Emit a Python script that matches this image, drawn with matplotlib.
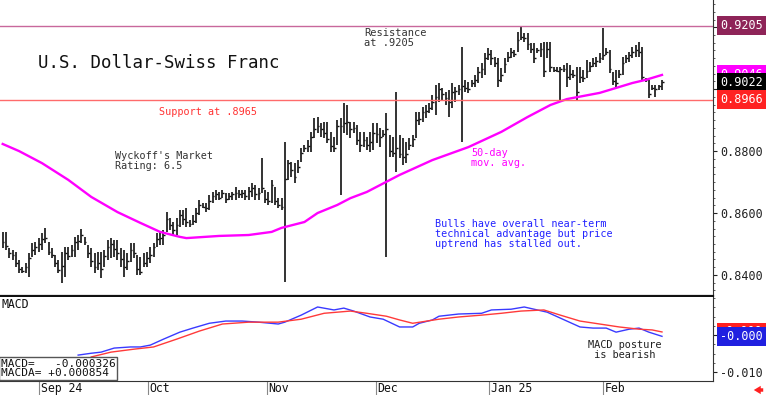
import numpy as np
import matplotlib
matplotlib.use('Agg')
import matplotlib.pyplot as plt
from matplotlib.ticker import MultipleLocator

# daily bars (USD/CHF)
highs = [
    .8539, .8539, .8487, .8481, .8474, .8448, .8426, .8438, .8471, .8503,
    .8506, .8519, .8535, .8552, .8506, .8487, .8464, .8448, .8474, .8490,
    .8490, .8497, .8523, .8529, .8548, .8523, .8497, .8487, .8471, .8474,
    .8474, .8481, .8513, .8519, .8513, .8513, .8487, .8481, .8471, .8503,
    .8503, .8464, .8458, .8471, .8474, .8490, .8503, .8535, .8539, .8545,
    .8603, .8584, .8571,
    .8584, .8610, .8610, .8616, .8577, .8594, .8616, .8642, .8632, .8632,
    .8658, .8668, .8674, .8668, .8674, .8665, .8665, .8668, .8684, .8674,
    .8674, .8674, .8684, .8697, .8690, .8681, .8778, .8674, .8668, .8707,
    .8684, .8648, .8648, .8829, .8771, .8765, .8761, .8771, .8810, .8820,
    .8836, .8862, .8907, .8910, .8891, .8894, .8894, .8862, .8845, .8900,
    .8907, .8955, .8949,
    .8894, .8894, .8884, .8862, .8862, .8845, .8862, .8891, .8891, .8875,
    .8868, .8923, .8852, .8845, .8991, .8852, .8842, .8829, .8842, .8852,
    .8926, .8926, .8942, .8949, .8955, .8981, .9013, .9020, .9004, .8991,
    .8997, .9020, .9007, .9013, .9136, .9030, .9023, .9030,
    .9046, .9072, .9085, .9117, .9133, .9127, .9104, .9101, .9068, .9101,
    .9120, .9133, .9127, .9185,
    .9205, .9181, .9181, .9149, .9149, .9133, .9149, .9152, .9152, .9152,
    .9072, .9072, .9072, .9078, .9085, .9078, .9062, .9072, .9072, .9062,
    .9094, .9088, .9101, .9104, .9117, .9198, .9133, .9127, .9055, .9062,
    .9062, .9104, .9110, .9120, .9136, .9142, .9152, .9136, .9036, .9030,
    .9013, .9013, .9013, .9030]

lows = [
    .8487, .8481, .8455, .8448, .8426, .8406, .8406, .8406, .8393, .8458,
    .8464, .8474, .8481, .8503, .8464, .8455, .8426, .8406, .8374, .8393,
    .8448, .8458, .8458, .8481, .8503, .8497, .8455, .8426, .8406, .8416,
    .8390, .8426, .8448, .8455, .8458, .8448, .8426, .8393, .8416, .8442,
    .8455, .8400, .8400, .8426, .8426, .8438, .8458, .8490, .8497, .8497,
    .8539, .8545, .8529,
    .8529, .8555, .8561, .8555, .8555, .8561, .8568, .8594, .8616, .8603,
    .8610, .8632, .8642, .8642, .8648, .8632, .8642, .8642, .8642, .8648,
    .8648, .8642, .8642, .8652, .8642, .8642, .8665, .8632, .8626, .8632,
    .8626, .8616, .8610, .8377, .8707, .8716, .8697, .8729, .8765, .8797,
    .8797, .8797, .8842, .8858, .8845, .8842, .8826, .8797, .8797, .8820,
    .8658, .8858, .8852,
    .8842, .8858, .8820, .8797, .8813, .8804, .8797, .8804, .8826, .8813,
    .8845, .8458, .8781, .8781, .8732, .8778, .8755, .8761, .8804, .8813,
    .8842, .8884, .8894, .8907, .8923, .8933, .8917, .8959, .8965, .8949,
    .8910, .8939, .8959, .8981, .8829, .8991, .8988, .9007,
    .9007, .9020, .9036, .9046, .9094, .9078, .9072, .9007, .9023, .9052,
    .9088, .9101, .9104, .9120,
    .9159, .9152, .9127, .9117, .9085, .9117, .9104, .9039, .9101, .9055,
    .9055, .9055, .8965, .9055, .9007, .9030, .9036, .8965, .9020, .9023,
    .9036, .9055, .9072, .9072, .9085, .9094, .9110, .9052, .9013, .9007,
    .9036, .9046, .9085, .9088, .9101, .9104, .9104, .9030, .9023, .8971,
    .8997, .8975, .8997, .8997]

closes = [
    .8505, .8495, .8470, .8465, .8440, .8420, .8412, .8425, .8455, .8480,
    .8490, .8500, .8515, .8520, .8475, .8465, .8440, .8415, .8430, .8470,
    .8460, .8480, .8505, .8510, .8530, .8505, .8470, .8445, .8425, .8440,
    .8420, .8460, .8490, .8500, .8485, .8470, .8450, .8425, .8445, .8480,
    .8470, .8420, .8410, .8440, .8455, .8465, .8490, .8515, .8520, .8530,
    .8580, .8560, .8545,
    .8560, .8595, .8580, .8570, .8565, .8575, .8600, .8625, .8620, .8615,
    .8640, .8655, .8660, .8650, .8665, .8645, .8655, .8660, .8665, .8660,
    .8665, .8655, .8670, .8680, .8660, .8665, .8680, .8645, .8640, .8690,
    .8640, .8625, .8620, .8710, .8760, .8740, .8715, .8750, .8795, .8810,
    .8815, .8845, .8870, .8880, .8870, .8860, .8840, .8815, .8810, .8880,
    .8880, .8890, .8895,
    .8870, .8875, .8835, .8820, .8835, .8820, .8830, .8860, .8855, .8845,
    .8855, .8870, .8800, .8795, .8810, .8790, .8780, .8790, .8820, .8840,
    .8900, .8905, .8925, .8930, .8940, .8960, .8975, .9000, .8985, .8970,
    .8960, .8990, .8995, .9000, .9010, .9005, .9000, .9020,
    .9030, .9055, .9065, .9100, .9115, .9100, .9085, .9030, .9045, .9080,
    .9105, .9120, .9115, .9160,
    .9170, .9165, .9145, .9130, .9100, .9125, .9130, .9060, .9130, .9070,
    .9062, .9060, .9065, .9065, .9040, .9050, .9045, .8990, .9040, .9035,
    .9060, .9075, .9085, .9090, .9100, .9110, .9120, .9065, .9025, .9020,
    .9050, .9085, .9100, .9110, .9120, .9125, .9120, .9040, .9030, .8985,
    .9005, .9000, .9010, .9022]

# 50-day moving average, sampled along the curve (bar index, value)
ma_x = [0, 5, 12, 20, 27, 35, 42, 48, 54, 56, 66, 75, 82, 85, 92, 96, 102,
        106, 111, 121, 131, 142, 152, 160, 167, 172, 182, 187, 192, 196, 201]
ma_v = [.8823, .8800, .8761, .8707, .8652, .8603, .8568, .8539, .8523, .8519,
        .8526, .8529, .8539, .8552, .8571, .8600, .8626, .8648, .8668, .8723,
        .8771, .8813, .8862, .8910, .8949, .8968, .8988, .9004, .9020, .9030,
        .9046]

# MACD (blue) and MACDA (red)
macd_x = [23, 27, 30, 34, 39, 42, 45, 49, 54, 58, 63, 68, 73, 78, 84, 86, 91,
          96, 101, 104, 107, 112, 116, 121, 125, 127, 131, 133, 139, 146, 149,
          155, 159, 162, 166, 170, 176, 180, 184, 187, 191, 194, 197, 201]
macd_v = [-.0054, -.0049, -.0046, -.0035, -.0032, -.0032, -.0027, -.0011,
          .0008, .0019, .0032, .0038, .0038, .0035, .0030, .0035, .0054,
          .0076, .0068, .0073, .0065, .0049, .0043, .0022, .0022, .0032,
          .0041, .0051, .0057, .0059, .0068, .0070, .0076, .0070, .0062,
          .0046, .0022, .0019, .0019, .0008, .0016, .0019, .0008, -.000326]
sig_x = [27, 33, 40, 46, 53, 60, 67, 75, 84, 91, 98, 106, 111, 117, 121, 125,
         133, 139, 146, 152, 158, 165, 170, 176, 182, 188, 194, 198, 201]
sig_v = [-.0059, -.0046, -.0038, -.0032, -.0011, .0011, .0030, .0035, .0035,
         .0043, .0059, .0065, .0059, .0051, .0041, .0032, .0043, .0049, .0054,
         .0059, .0065, .0068, .0054, .0038, .0030, .0022, .0016, .0014, .000854]

month_pos = [11.1, 44.3, 80.6, 113.8, 148.3, 183.0]
month_labels = ['Sep 24', 'Oct', 'Nov', 'Dec', 'Jan 25', 'Feb']

price_ticks = [0.84, 0.86, 0.88, 0.90, 0.92]
price_tick_labels = ['0.8400', '0.8600', '0.8800', '0.9000', '']
macd_ticks = [-0.010, 0.0]
macd_tick_labels = ['-0.010', '']

resistance = 0.9205
support = 0.8966
last_close = 0.9022
last_ma = 0.9046

MONO = 'DejaVu Sans Mono'
W, H = 768, 395


def fx(px):
    return px / W


def fy(py):
    return 1 - py / H


fig = plt.figure(figsize=(W / 100, H / 100), dpi=100)
ax = fig.add_axes([0, fy(296), fx(713), fy(0) - fy(296)])
axm = fig.add_axes([0, fy(381), fx(713), fy(297) - fy(381)], sharex=ax)

idx = np.arange(len(highs))

# price panel
ax.vlines(idx, lows, highs, color='#111111', lw=1.2)
ax.hlines(closes, idx, idx + 0.55, color='#111111', lw=1.0)
ax.plot(ma_x, ma_v, color='#FF00FF', lw=1.7)
ax.axhline(resistance, color='#C8689C', lw=1)
ax.axhline(support, color='#FF6B6B', lw=1)

ax.set_xlim(-0.82, 216.55)
ax.set_ylim(0.8332, 0.9288)
ax.yaxis.tick_right()
ax.set_yticks(price_ticks, price_tick_labels)
ax.yaxis.set_minor_locator(MultipleLocator(0.0025))
ax.tick_params(axis='y', which='major', direction='out', length=3, pad=2,
               labelsize=8.5, colors='#222222')
ax.tick_params(axis='y', which='minor', direction='out', length=1.5, color='#444444')
ax.tick_params(axis='x', bottom=False, labelbottom=False)
for lbl in ax.get_yticklabels():
    lbl.set_family(MONO)
ax.spines['top'].set_visible(False)
ax.spines['left'].set_visible(False)
ax.spines['right'].set_color('#333333')
ax.spines['bottom'].set_linewidth(1.6)
ax.spines['bottom'].set_color('#111111')

tr = ax.get_yaxis_transform()
box_x = 1.0098
for val, fc in [(resistance, '#8E2458'), (last_ma, '#FF00FF'),
                (last_close, '#000000'), (support, '#FF2222')]:
    ax.text(box_x, val, f'{val:.4f}', transform=tr, color='white', fontsize=8.5,
            family=MONO, va='center', ha='left', clip_on=False, zorder=5,
            bbox=dict(boxstyle='square,pad=0.25', fc=fc, ec='none'))

# MACD panel
axm.plot(macd_x, macd_v, color='#3A3AFF', lw=1.0)
axm.plot(sig_x, sig_v, color='#FF3A3A', lw=1.0)
axm.set_ylim(-0.0124, 0.0103)
axm.yaxis.tick_right()
axm.set_yticks(macd_ticks, macd_tick_labels)
axm.yaxis.set_minor_locator(MultipleLocator(0.0025))
axm.tick_params(axis='y', which='major', direction='out', length=3, pad=2,
                labelsize=8.5, colors='#222222')
axm.tick_params(axis='y', which='minor', direction='out', length=1.5, color='#444444')
for lbl in axm.get_yticklabels():
    lbl.set_family(MONO)
axm.set_xticks(month_pos)
axm.tick_params(axis='x', direction='out', length=10, color='#888888',
                labelbottom=False)
axm.spines['top'].set_visible(False)
axm.spines['left'].set_visible(False)
axm.spines['right'].set_color('#333333')
axm.spines['bottom'].set_color('#333333')

xtr = axm.get_xaxis_transform()
for pos, lab in zip(month_pos, month_labels):
    axm.text(pos + 0.5, -0.095, lab, transform=xtr, fontsize=8.3, family=MONO,
             va='center', ha='left', color='#111111', clip_on=False)

mtr = axm.get_yaxis_transform()
axm.text(box_x, 0.000854, '+0.000', transform=mtr, color='white', fontsize=8.5,
         family=MONO, va='center', ha='left', clip_on=False, zorder=5,
         bbox=dict(boxstyle='square,pad=0.25', fc='#FF2020', ec='none'))
axm.text(box_x, -0.000326, '-0.000', transform=mtr, color='white', fontsize=8.5,
         family=MONO, va='center', ha='left', clip_on=False, zorder=6,
         bbox=dict(boxstyle='square,pad=0.25', fc='#2020E0', ec='none'))

# annotations
fig.text(fx(38), fy(63), 'U.S. Dollar-Swiss Franc', fontsize=12.5, family=MONO,
         va='center', ha='left', color='#111111')
fig.text(fx(159), fy(112), 'Support at .8965', fontsize=7.3, family=MONO,
         va='center', ha='left', color='#FF3333')
fig.text(fx(364), fy(38.5), 'Resistance\nat .9205', fontsize=7.5, family=MONO,
         va='center', ha='left', color='#333333', linespacing=1.0)
fig.text(fx(115), fy(161), "Wyckoff's Market\nRating: 6.5", fontsize=7.3,
         family=MONO, va='center', ha='left', color='#333333', linespacing=1.05)
fig.text(fx(471), fy(157.5), '50-day\nmov. avg.', fontsize=7.3, family=MONO,
         va='center', ha='left', color='#FF00FF', linespacing=1.0)
fig.text(fx(435), fy(234), 'Bulls have overall near-term\n'
         'technical advantage but price\nuptrend has stalled out.',
         fontsize=7.3, family=MONO, va='center', ha='left', color='#2222FF',
         linespacing=0.98)
fig.text(fx(588), fy(350.5), 'MACD posture\n is bearish', fontsize=7.4,
         family=MONO, va='center', ha='left', color='#222222', linespacing=1.0)
fig.text(fx(2), fy(304), 'MACD', fontsize=8.3, family=MONO, va='center',
         ha='left', color='#111111')
fig.text(fx(1), fy(368.5), 'MACD=   -0.000326\nMACDA= +0.000854', fontsize=8.0,
         family=MONO, va='center', ha='left', color='#111111', linespacing=0.95,
         bbox=dict(boxstyle='square,pad=0.15', fc='white', ec='#555555', lw=1))

ax.annotate('', xy=(fx(751), fy(390)), xytext=(fx(766), fy(390)),
            xycoords='figure fraction', textcoords='figure fraction',
            arrowprops=dict(arrowstyle='simple,head_width=0.6,tail_width=0.25',
                            color='#FF2020', lw=0))

fig.savefig('out.png', dpi=100)
